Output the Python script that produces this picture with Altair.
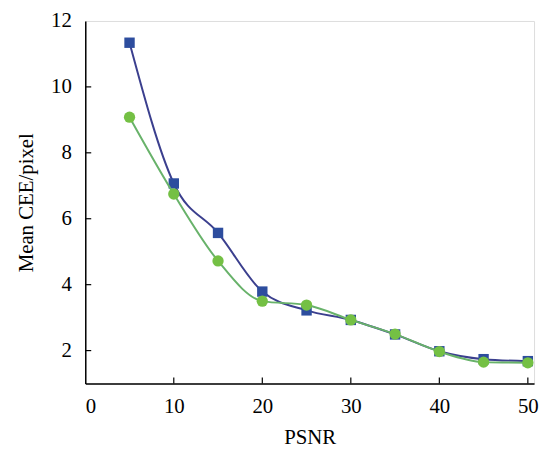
import altair as alt
import pandas as pd

psnr = [5, 10, 15, 20, 25, 30, 35, 40, 45, 50]
series_a = [11.34, 7.07, 5.57, 3.79, 3.22, 2.93, 2.49, 1.98, 1.74, 1.68]
series_b = [9.08, 6.75, 4.72, 3.50, 3.38, 2.93, 2.50, 1.97, 1.65, 1.63]

x_ticks = [10, 20, 30, 40, 50]
y_ticks = [2, 4, 6, 8, 10]

df_a = pd.DataFrame({"PSNR": psnr, "CEE": series_a})
df_b = pd.DataFrame({"PSNR": psnr, "CEE": series_b})

FONT = "Liberation Serif"
FS = 21
W, H = 453, 366
xs = alt.Scale(domain=[0, 50.7], nice=False, zero=False)
ys = alt.Scale(domain=[1, 12], nice=False, zero=False)

xaxis = alt.Axis(values=[0, 10, 20, 30, 40, 50], ticks=False, grid=False, labelPadding=12,
                 labelFont=FONT, labelFontSize=FS, labelColor="black", domainColor="black",
                 titleFont=FONT, titleFontSize=FS, titleFontWeight="normal", titleColor="black",
                 titlePadding=11, domainWidth=1.5)
yaxis = alt.Axis(values=[2, 4, 6, 8, 10, 12], ticks=False, grid=False, labelPadding=14,
                 labelFont=FONT, labelFontSize=FS, labelColor="black", domainColor="black",
                 titleFont=FONT, titleFontSize=FS, titleFontWeight="normal", titleColor="black",
                 titlePadding=14, domainWidth=1.5)

def series(df, line_color, mark_color, shape, size):
    base = alt.Chart(df)
    line = base.mark_line(color=line_color, strokeWidth=2, interpolate="monotone").encode(
        x=alt.X("PSNR:Q", scale=xs, axis=xaxis, title="PSNR"),
        y=alt.Y("CEE:Q", scale=ys, axis=yaxis, title="Mean CEE/pixel"),
    )
    pts = base.mark_point(shape=shape, filled=True, size=size, color=mark_color, opacity=1).encode(
        x=alt.X("PSNR:Q", scale=xs), y=alt.Y("CEE:Q", scale=ys)
    )
    return line + pts

xt = alt.Chart(pd.DataFrame({"v": x_ticks})).mark_rule(color="black", strokeWidth=1.2).encode(
    x=alt.X("v:Q", scale=xs), y=alt.value(H), y2=alt.value(H - 6)
)
yt = alt.Chart(pd.DataFrame({"v": y_ticks})).mark_rule(color="black", strokeWidth=1.2).encode(
    y=alt.Y("v:Q", scale=ys), x=alt.value(0), x2=alt.value(6)
)

chart = alt.layer(
    xt, yt,
    series(df_a, "#3b3f8e", "#2d4d9e", "square", 110),
    series(df_b, "#68b26a", "#74c044", "circle", 130),
).properties(
    width=W, height=H,
    autosize=alt.AutoSizeParams(type="none"),
    padding={"left": 78, "top": 11, "right": 5, "bottom": 66},
).configure_view(stroke="black", strokeWidth=1.5).configure(background="white")

chart.save("out.html", embed_options={"renderer": "svg", "actions": False})
